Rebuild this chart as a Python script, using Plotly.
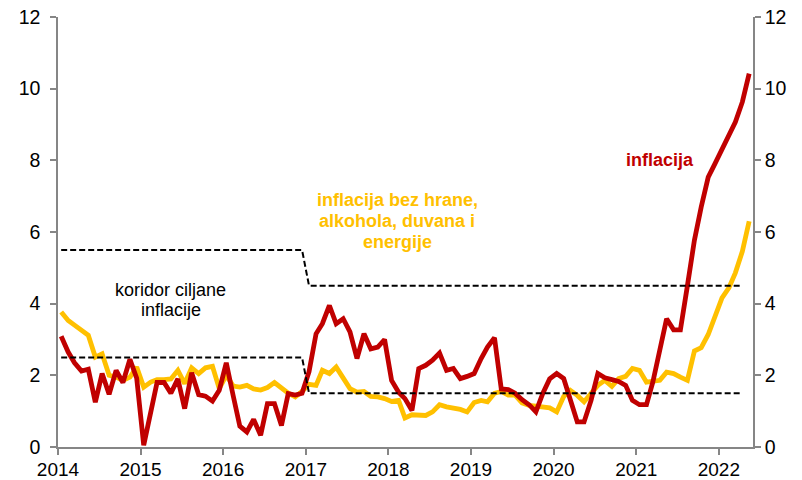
import pandas as pd
import plotly.graph_objects as go

# Monthly observations, Jan 2014 - May 2022
months = [f"{y}-{m:02d}" for y in range(2014, 2023) for m in range(1, 13)][:101]

inflacija = [
    3.09, 2.65, 2.35, 2.12, 2.17, 1.25, 2.05, 1.47, 2.14, 1.80, 2.45, 1.92,   # 2014
    0.05, 1.00, 1.80, 1.80, 1.50, 1.90, 1.07, 2.07, 1.46, 1.42, 1.28, 1.58,   # 2015
    2.35, 1.42, 0.58, 0.42, 0.77, 0.33, 1.21, 1.21, 0.60, 1.49, 1.45, 1.50,   # 2016
    2.10, 3.16, 3.44, 3.95, 3.44, 3.58, 3.21, 2.47, 3.16, 2.74, 2.79, 3.00,   # 2017
    1.86, 1.53, 1.35, 1.02, 2.19, 2.28, 2.42, 2.62, 2.14, 2.19, 1.91, 1.97,   # 2018
    2.05, 2.47, 2.79, 3.05, 1.62, 1.60, 1.50, 1.32, 1.18, 0.98, 1.50, 1.90,   # 2019
    2.05, 1.91, 1.30, 0.70, 0.70, 1.30, 2.05, 1.93, 1.88, 1.83, 1.72, 1.30,   # 2020
    1.18, 1.18, 1.81, 2.70, 3.58, 3.27, 3.27, 4.50, 5.77, 6.70, 7.53, 7.91,   # 2021
    8.33, 8.74, 9.07, 9.63, 10.42,                                             # 2022
]

bazna = [
    3.77, 3.53, 3.40, 3.27, 3.12, 2.51, 2.60, 2.00, 1.95, 1.86, 1.95, 2.23,   # 2014
    1.67, 1.81, 1.88, 1.88, 1.90, 2.14, 1.77, 2.21, 2.05, 2.21, 2.25, 1.63,   # 2015
    2.00, 1.70, 1.67, 1.72, 1.62, 1.59, 1.66, 1.80, 1.64, 1.50, 1.40, 1.55,   # 2016
    1.75, 1.72, 2.14, 2.05, 2.23, 1.95, 1.63, 1.53, 1.55, 1.41, 1.40, 1.35,   # 2017
    1.27, 1.30, 0.81, 0.90, 0.90, 0.88, 0.98, 1.18, 1.12, 1.10, 1.05, 0.98,   # 2018
    1.24, 1.30, 1.26, 1.50, 1.55, 1.45, 1.45, 1.23, 1.16, 1.14, 1.12, 1.09,   # 2019
    0.98, 1.41, 1.58, 1.44, 1.26, 1.49, 1.72, 1.86, 1.69, 1.91, 1.97, 2.19,   # 2020
    2.14, 1.81, 1.83, 1.86, 2.09, 2.05, 1.95, 1.86, 2.68, 2.77, 3.14, 3.60,   # 2021
    4.16, 4.45, 4.86, 5.46, 6.30,                                              # 2022
]

# Inflation target corridor (Jan 2014 - Apr 2022)
koridor_gornja = [5.5] * 36 + [4.5] * 64
koridor_donja = [2.5] * 36 + [1.5] * 64

year_ticks = [f"{y}-01-01" for y in range(2014, 2023)]
year_labels = [str(y) for y in range(2014, 2023)]

RED = "#C00000"
GOLD = "#FFC000"
AXIS = "#868686"
FONT = "Liberation Sans, Arial, sans-serif"

x = pd.to_datetime(months) + pd.Timedelta(days=14)
xk = x[:len(koridor_gornja)]

fig = go.Figure()
fig.add_trace(go.Scatter(x=x, y=bazna, mode="lines",
                         line=dict(color=GOLD, width=4.8), showlegend=False))
fig.add_trace(go.Scatter(x=x, y=inflacija, mode="lines",
                         line=dict(color=RED, width=4.8), showlegend=False))
for k in (koridor_gornja, koridor_donja):
    fig.add_trace(go.Scatter(x=xk, y=k, mode="lines", yaxis="y2",
                             line=dict(color="black", width=2, dash="6px,3px"),
                             showlegend=False))

axis_common = dict(showline=True, linecolor=AXIS, linewidth=1.5, ticks="outside",
                   ticklen=6, tickcolor=AXIS, tickwidth=1.5, showgrid=False,
                   zeroline=False, automargin=False, ticklabeloverflow="allow")
yfont = dict(family=FONT, size=19.5, color="black")
xfont = dict(family=FONT, size=19, color="black")

fig.update_layout(
    width=802, height=480,
    margin=dict(l=58, r=49, t=17, b=33, autoexpand=False),
    plot_bgcolor="white", paper_bgcolor="white",
    font=dict(family=FONT, size=18, color="black"),
    xaxis=dict(range=["2014-01-01", "2022-06-01"], tickmode="array",
               tickvals=year_ticks, ticktext=year_labels, tickfont=xfont,
               ticklabelstandoff=-2, **axis_common),
    yaxis=dict(range=[0, 12], tickmode="linear", tick0=0, dtick=2, tickfont=yfont,
               ticklabelstandoff=6, **axis_common),
    yaxis2=dict(range=[0, 12], tickmode="linear", tick0=0, dtick=2, overlaying="y",
                side="right", anchor="x", tickfont=yfont, **axis_common),
)

ann = [
    ("koridor ciljane", 0.162, 4.37, "black", False),
    ("inflacije", 0.162, 3.82, "black", False),
    ("inflacija bez hrane,", 0.488, 6.88, GOLD, True),
    ("alkohola, duvana i", 0.488, 6.30, GOLD, True),
    ("energije", 0.488, 5.71, GOLD, True),
    ("inflacija", 0.866, 8.00, RED, True),
]
for text, xp, yv, col, bold in ann:
    fig.add_annotation(text=f"<b>{text}</b>" if bold else text, xref="paper", yref="y",
                       x=xp, y=yv, showarrow=False, xanchor="center", yanchor="middle",
                       font=dict(family=FONT, size=18, color=col))

# remove the browser's default 8px page margin so the figure fills the window
fig.write_html("out.html", config={"displayModeBar": False},
               post_script="document.body.style.margin='0';document.body.style.overflow='hidden';")
